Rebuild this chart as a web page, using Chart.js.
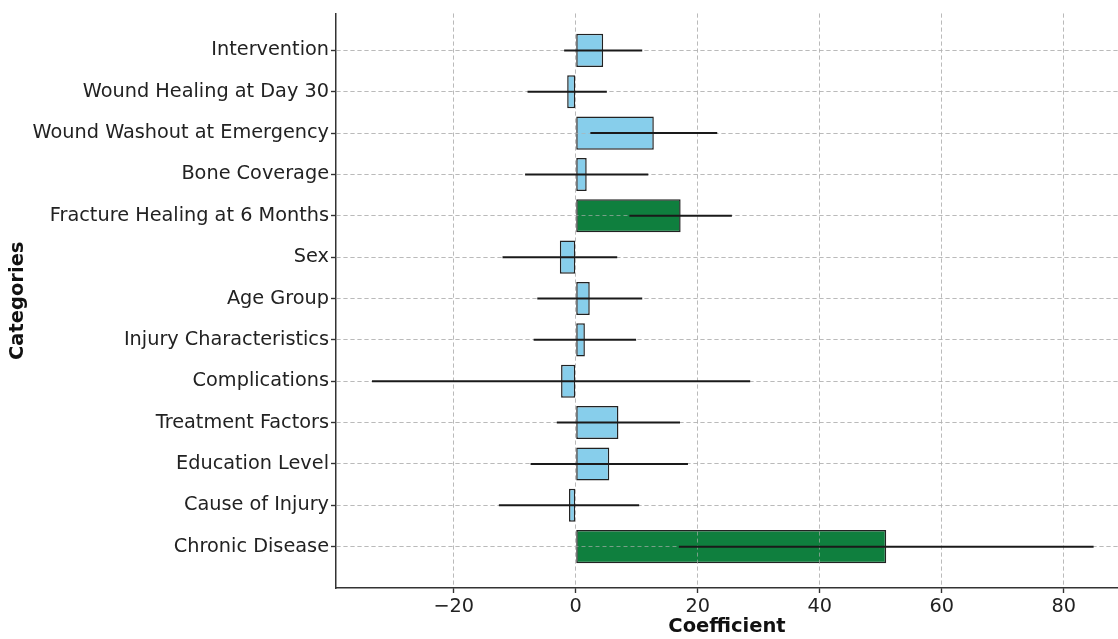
<!DOCTYPE html>
<html lang="en">

<head>
    <meta charset="UTF-8">
    <title>Coefficients</title>
    <script src="https://cdn.jsdelivr.net/npm/chart.js"></script>
    <style>
        body { margin: 0; background: #fff; }
        #wrap { width: 1118px; height: 639px; }
    </style>
</head>

<body>
    <div id="wrap"><canvas id="coefChart"></canvas></div>

    <script>
        // values
        const categories = ['Intervention', 'Wound Healing at Day 30', 'Wound Washout at Emergency', 'Bone Coverage',
            'Fracture Healing at 6 Months', 'Sex', 'Age Group', 'Injury Characteristics', 'Complications',
            'Treatment Factors', 'Education Level', 'Cause of Injury', 'Chronic Disease'];
        const coefficients = [4.5, -1.4, 12.8, 1.8, 17.2, -2.6, 2.3, 1.5, -2.4, 7.0, 5.5, -1.1, 50.9];
        const errors = [6.4, 6.5, 10.4, 10.1, 8.4, 9.4, 8.6, 8.4, 31.0, 10.1, 12.9, 11.5, 34.0];
        const significant = [false, false, false, false, true, false, false, false, false, false, false, false, true];
        const xTicks = [-20, 0, 20, 40, 60, 80];

        const font = "'DejaVu Sans', sans-serif";
        const gridColor = 'rgba(176,176,176,0.65)';

        // draw grid on top of bars, then the error bars
        const errorBars = {
            id: 'errorBars',
            afterDatasetsDraw(chart) {
                const ctx = chart.ctx;
                chart.scales.x.drawGrid(chart.chartArea);
                chart.scales.y.drawGrid(chart.chartArea);
                const x = chart.scales.x, y = chart.scales.y;
                ctx.save();
                ctx.strokeStyle = '#1a1a1a';
                ctx.lineWidth = 2;
                coefficients.forEach((c, i) => {
                    const py = y.getPixelForValue(i);
                    ctx.beginPath();
                    ctx.moveTo(x.getPixelForValue(c - errors[i]), py);
                    ctx.lineTo(x.getPixelForValue(c + errors[i]), py);
                    ctx.stroke();
                });
                ctx.restore();
            }
        };

        const ctx = document.getElementById('coefChart').getContext('2d');
        new Chart(ctx, {
            type: 'bar',
            data: {
                datasets: [{
                    data: coefficients.map((v, i) => ({ x: v, y: i })),
                    backgroundColor: significant.map(s => s ? '#0f7f3e' : '#87ceeb'),
                    borderColor: '#222',
                    borderWidth: 1.5,
                    borderSkipped: false,
                    barPercentage: 0.8,
                    categoryPercentage: 1
                }]
            },
            options: {
                indexAxis: 'y',
                responsive: true,
                maintainAspectRatio: false,
                animation: false,
                layout: { padding: { top: 11, right: 0, left: 0, bottom: 0 } },
                plugins: { legend: { display: false }, tooltip: { enabled: false } },
                scales: {
                    x: {
                        type: 'linear',
                        min: -39.3,
                        max: 88.9,
                        afterBuildTicks: axis => { axis.ticks = xTicks.map(v => ({ value: v })); },
                        afterFit: axis => { axis.height = 51; },
                        grid: {
                            color: gridColor,
                            tickColor: '#333',
                            tickBorderDash: [],
                            tickLength: 5,
                            tickWidth: 1.2
                        },
                        border: { color: '#333', width: 1.5, dash: [4, 3] },
                        ticks: {
                            color: '#222',
                            font: { family: font, size: 19.3 },
                            padding: 2,
                            callback: v => String(v).replace('-', '\u2212')
                        },
                        title: {
                            display: true,
                            text: 'Coefficient',
                            color: '#111',
                            font: { family: font, size: 19.5, weight: 'bold' },
                            padding: { top: 0, bottom: 0 }
                        }
                    },
                    y: {
                        type: 'linear',
                        reverse: true,
                        offset: false,
                        min: -0.89,
                        max: 13.0,
                        afterBuildTicks: axis => { axis.ticks = categories.map((c, i) => ({ value: i })); },
                        afterFit: axis => { axis.width = 336; },
                        grid: {
                            offset: false,
                            color: gridColor,
                            tickColor: '#333',
                            tickBorderDash: [],
                            tickLength: 5,
                            tickWidth: 1.2
                        },
                        border: { color: '#333', width: 1.5, dash: [4, 3] },
                        ticks: {
                            color: '#222',
                            font: { family: font, size: 19.3 },
                            padding: 2,
                            autoSkip: false,
                            callback: v => categories[v]
                        },
                        title: {
                            display: true,
                            text: 'Categories',
                            color: '#111',
                            font: { family: font, size: 19.5, weight: 'bold' },
                            padding: { top: 6, bottom: 0 }
                        }
                    }
                }
            },
            plugins: [errorBars]
        });
    </script>
</body>

</html>
